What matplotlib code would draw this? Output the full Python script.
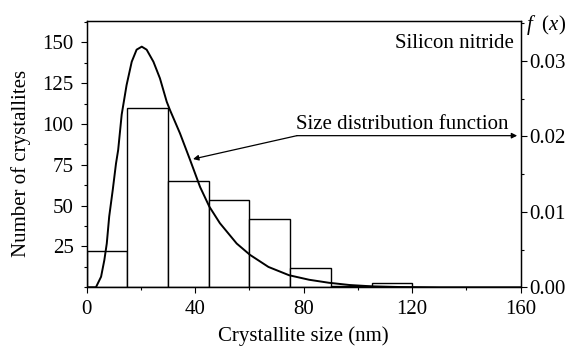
import matplotlib

matplotlib.use("Agg")
import matplotlib.pyplot as plt  # noqa: E402
from matplotlib.ticker import MultipleLocator  # noqa: E402

plt.rcParams["font.family"] = ["Liberation Serif", "DejaVu Serif"]
plt.rcParams["mathtext.fontset"] = "custom"
plt.rcParams["mathtext.it"] = "Liberation Serif:italic"
plt.rcParams["mathtext.rm"] = "Liberation Serif"

# histogram: bin left edges (nm), bin width and counts
bin_left = [0, 15, 30, 45, 60, 75, 90, 105]
bin_width = 15
counts = [22, 110, 65, 53.5, 41.5, 12, 1, 2.5]

# size distribution function f(x)
curve_x = [0, 3.4, 5.3, 6.5, 7.4, 8.3, 9.6, 10.8, 11.6, 12.9, 14.7, 16.6, 18.4,
           20.3, 22.1, 24.6, 27.0, 29.5, 30.7, 34.4, 38.1, 41.8, 45.2, 49.1,
           55.3, 60.2, 67, 74.6, 82, 89.3, 97, 105, 115, 130, 160]
curve_f = [0, 0, 0.0014, 0.0036, 0.0058, 0.0094, 0.0129, 0.0164, 0.0182,
           0.0229, 0.0268, 0.0299, 0.0315, 0.0319, 0.0315, 0.0299, 0.0277,
           0.0246, 0.0235, 0.0204, 0.0169, 0.0133, 0.0107, 0.0085, 0.0058,
           0.0043, 0.0027, 0.0016, 0.0010, 0.0006, 0.0003, 0.00013, 0.00004,
           0, 0]

left_ticks = [25, 50, 75, 100, 125, 150]
right_ticks = [0.0, 0.01, 0.02, 0.03]
x_ticks = [0, 40, 80, 120, 160]

fig = plt.figure(figsize=(5.77, 3.49), dpi=100)
ax = fig.add_axes([86.7 / 577, 1 - 287.3 / 349, 434 / 577, 266.3 / 349])
ax.bar(bin_left, counts, width=bin_width, align="edge",
       facecolor="white", edgecolor="black", linewidth=1.0)
ax.set_xlim(0, 160)
ax.set_ylim(0, 163)
ax.set_xticks(x_ticks)
ax.xaxis.set_minor_locator(MultipleLocator(20))
ax.set_yticks(left_ticks)
ax.yaxis.set_minor_locator(MultipleLocator(12.5))
ax.tick_params(axis="both", which="major", direction="out", length=4.5,
               width=0.8, labelsize=15, pad=5)
ax.tick_params(axis="both", which="minor", direction="out", length=2.5,
               width=0.8)
ax.set_xlabel("Crystallite size (nm)", fontsize=15, labelpad=5)
ax.set_ylabel("Number of crystallites", fontsize=15)
ax.yaxis.set_label_coords(-0.129, 0.467)
for s in ax.spines.values():
    s.set_linewidth(1.0)

ax2 = ax.twinx()
ax2.plot(curve_x, curve_f, color="black", linewidth=1.4)
ax2.set_ylim(0, 0.0353)
ax2.set_yticks(right_ticks)
ax2.set_yticklabels([f"{v:.2f}" for v in right_ticks])
ax2.yaxis.set_minor_locator(MultipleLocator(0.005))
ax2.tick_params(axis="y", which="major", direction="out", length=4.5,
                width=0.8, labelsize=15, pad=2)
ax2.tick_params(axis="y", which="minor", direction="out", length=2.5,
                width=0.8)

ax2.text(0.985, 0.915, "Silicon nitride", transform=ax.transAxes,
         ha="right", va="center", fontsize=15)
ax2.text(1.013, 0.985, r"$f\ \ (x)$", transform=ax.transAxes,
         ha="left", va="center", fontsize=15)
ax2.text(0.483, 0.613, "Size distribution function", transform=ax.transAxes,
         ha="left", va="center", fontsize=15)

# annotation arrows: one to the curve, one to the f(x) axis
ax2.annotate("", xy=(39.2, 0.0170), xytext=(77.5, 0.0201),
             arrowprops=dict(arrowstyle="-|>", color="black", lw=0.9,
                             mutation_scale=8, shrinkA=0, shrinkB=0))
ax2.annotate("", xy=(158.7, 0.0201), xytext=(77.5, 0.0201),
             arrowprops=dict(arrowstyle="-|>", color="black", lw=0.9,
                             mutation_scale=8, shrinkA=0, shrinkB=0))

fig.savefig("out.png", dpi=100)
